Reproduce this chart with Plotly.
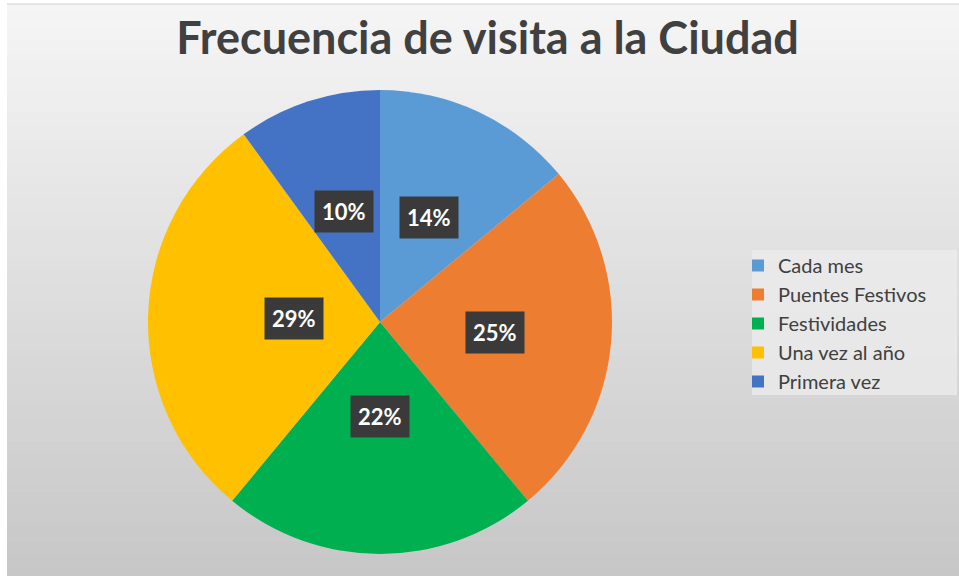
import math
import plotly.graph_objects as go

categories = ["Cada mes", "Puentes Festivos", "Festividades", "Una vez al año", "Primera vez"]
values = [14, 25, 22, 29, 10]
colors = ["#5B9BD5", "#ED7D31", "#00B050", "#FFC000", "#4472C4"]
title_text = "Frecuencia de visita a la Ciudad"

W, H = 959, 576
# pie geometry (pixels)
cx_px, cy_px, R_px = 380, 322, 232

fig = go.Figure()
fig.add_trace(go.Pie(
    labels=categories, values=values, sort=False, direction="clockwise", rotation=0,
    marker=dict(colors=colors, line=dict(width=0)),
    textinfo="none", hoverinfo="label+percent",
    domain=dict(x=[(cx_px - R_px) / W, (cx_px + R_px) / W],
                y=[(H - cy_px - R_px) / H, (H - cy_px + R_px) / H]),
))

# background gradient
shapes = []
x0 = 7 / W
ytop = (H - 4) / H
n = 80
top_c, bot_c = 245, 199
for i in range(n):
    f = i / (n - 1)
    g = int(round(top_c + (bot_c - top_c) * f))
    y1 = ytop - ytop * i / n
    y0 = ytop - ytop * (i + 1) / n
    shapes.append(dict(type="rect", xref="paper", yref="paper", x0=x0, x1=1, y0=y0 - 0.001, y1=y1,
                       fillcolor=f"rgb({g},{g},{g})", line=dict(width=0), layer="below"))
shapes.append(dict(type="line", xref="paper", yref="paper", x0=x0, x1=1, y0=ytop, y1=ytop,
                   line=dict(color="#cfcfcf", width=1), layer="below"))
# legend box
shapes.append(dict(type="rect", xref="paper", yref="paper", x0=752 / W, x1=957 / W,
                   y0=1 - 395 / H, y1=1 - 250 / H,
                   fillcolor="rgba(236,236,236,0.75)", line=dict(width=0), layer="below"))

# data labels at half radius
total = sum(values)
annotations = []
cum = 0
for v in values:
    mid = (cum + v / 2) / total * 2 * math.pi
    cum += v
    px = cx_px + 0.5 * R_px * math.sin(mid)
    py = cy_px - 0.5 * R_px * math.cos(mid)
    annotations.append(dict(x=px / W, y=1 - py / H, xref="paper", yref="paper",
                            text=f"<b>{v / total * 100:.0f}%</b>", showarrow=False,
                            font=dict(family="Lato", size=22, color="white"),
                            bgcolor="#3a3a3a", borderpad=7))

fig.update_layout(
    width=W, height=H,
    margin=dict(l=0, r=0, t=0, b=0),
    paper_bgcolor="white",
    shapes=shapes,
    annotations=annotations,
    title=dict(text=f"<b>{title_text}</b>", x=487.5 / W, xanchor="center", y=1 - 38 / H,
               yanchor="middle",
               font=dict(family="Lato", size=45, color="#404040")),
    legend=dict(x=738 / W, y=1 - 246 / H, xanchor="left", yanchor="top",
                bgcolor="rgba(0,0,0,0)", font=dict(family="Lato", size=20, color="#404040"),
                itemwidth=30, tracegroupgap=0),
    showlegend=True,
)

fig.write_html("out.html", config={"displayModeBar": False},
               post_script="document.body.style.margin='0';document.body.style.overflow='hidden';")
